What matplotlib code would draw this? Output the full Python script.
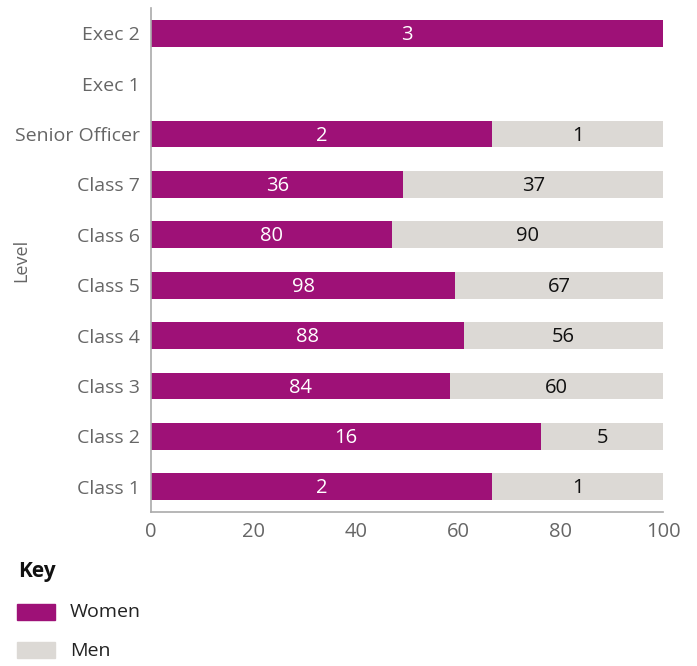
import matplotlib
matplotlib.use("Agg")
import matplotlib.pyplot as plt
from matplotlib.patches import Rectangle

levels = ["Class 1", "Class 2", "Class 3", "Class 4", "Class 5", "Class 6",
          "Class 7", "Senior Officer", "Exec 1", "Exec 2"]
women = [2, 16, 84, 88, 98, 80, 36, 2, 0, 3]
men = [1, 5, 60, 56, 67, 90, 37, 1, 0, 0]
xticks = [0, 20, 40, 60, 80, 100]

WOMEN_C = "#9e1177"
MEN_C = "#dcd9d5"
FONT = ["Open Sans", "DejaVu Sans"]
plt.rcParams["font.family"] = FONT

fig = plt.figure(figsize=(6.97, 6.66), dpi=100)
ax = fig.add_axes([151/697, 154/666, 512/697, (512-8)/666])

for i, (w, m) in enumerate(zip(women, men)):
    tot = w + m
    if tot == 0:
        continue
    wp = w / tot * 100
    mp = m / tot * 100
    ax.barh(i, wp, height=0.53, color=WOMEN_C, left=0)
    if m > 0:
        ax.barh(i, mp, height=0.53, color=MEN_C, left=wp)
    if w > 0:
        ax.text(wp / 2, i - 0.03, str(w), ha="center", va="center", color="white", fontsize=14.5)
    if m > 0:
        ax.text(wp + mp / 2, i - 0.03, str(m), ha="center", va="center", color="#111111", fontsize=14.5)

ax.set_xlim(0, 100)
ax.set_ylim(-0.5, 9.5)
ax.set_yticks(range(len(levels)))
ax.set_yticklabels(levels)
ax.set_xticks(xticks)
ax.tick_params(axis="both", length=0, colors="#666666", labelsize=14)
ax.tick_params(axis="x", pad=7, labelsize=14.5)
ax.tick_params(axis="y", pad=8)
for s in ["top", "right"]:
    ax.spines[s].set_visible(False)
for s in ["left", "bottom"]:
    ax.spines[s].set_color("#aaaaaa")
    ax.spines[s].set_linewidth(1.2)

fig.text(21/697, 1 - 260/666, "Level", rotation=90, color="#666666", fontsize=13,
         ha="center", va="center")

# Key
fig.text(18/697, 1 - 571/666, "Key", fontsize=15, fontweight="bold", color="#111111", va="center")
fig.patches.append(Rectangle((17/697, 1 - 620/666), 38/697, 16/666, transform=fig.transFigure,
                             color=WOMEN_C, figure=fig))
fig.text(70/697, 1 - 612/666, "Women", fontsize=14, color="#222222", va="center")
fig.patches.append(Rectangle((17/697, 1 - 658/666), 38/697, 16/666, transform=fig.transFigure,
                             color=MEN_C, figure=fig))
fig.text(70/697, 1 - 651/666, "Men", fontsize=14, color="#222222", va="center")

fig.savefig("out.png", dpi=100)
